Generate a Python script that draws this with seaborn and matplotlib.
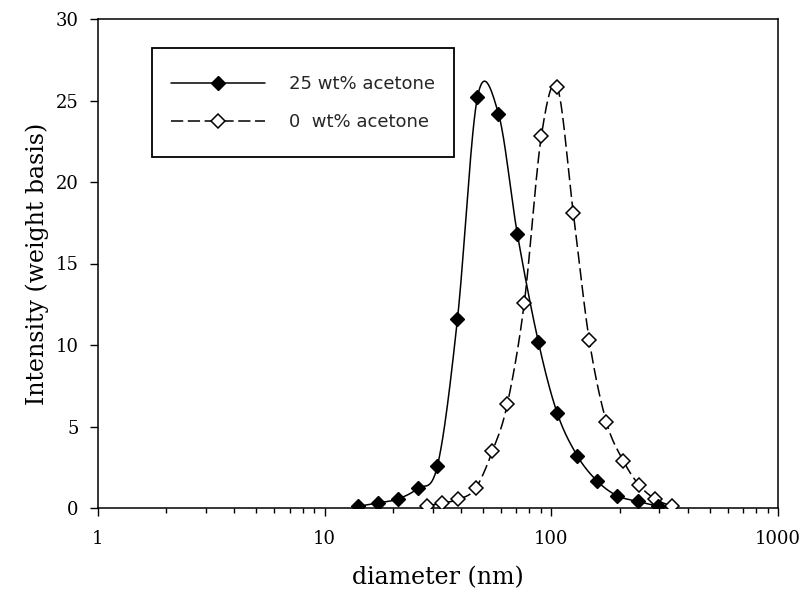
import numpy as np
import pandas as pd
import matplotlib
matplotlib.use("Agg")
import matplotlib.pyplot as plt
import seaborn as sns
from matplotlib.lines import Line2D
from matplotlib.patches import Rectangle
from matplotlib.ticker import FixedLocator, FixedFormatter, LogLocator, NullFormatter

# 25 wt% acetone (filled diamonds, solid line)
diam_25 = [13.98, 17.12, 20.97, 25.68, 31.46, 38.54, 47.21, 58.42,
           70.84, 87.63, 106.3, 130.2, 159.4, 195.3, 241.7, 296.0]
int_25 = [0.1, 0.3, 0.55, 1.2, 2.6, 11.6, 25.2, 24.2,
          16.8, 10.2, 5.8, 3.2, 1.65, 0.75, 0.4, 0.1]

# 0 wt% acetone (open diamonds, dashed line)
diam_0 = [28.14, 33.1, 38.9, 46.3, 55.0, 64.0, 76.0, 90.3,
          106.3, 125.0, 147.0, 174.7, 207.6, 244.2, 287.2, 341.3]
int_0 = [0.12, 0.3, 0.53, 1.2, 3.5, 6.4, 12.6, 22.8,
         25.8, 18.1, 10.3, 5.3, 2.9, 1.4, 0.55, 0.1]

labels = ["25 wt% acetone", "0  wt% acetone"]
x_ticks = [1, 10, 100, 1000]
y_ticks = [0, 5, 10, 15, 20, 25, 30]


def smooth(x, y, n=30):
    # Catmull-Rom through the points in log-x space (like a spreadsheet "smoothed line")
    lx = np.log10(np.asarray(x, float))
    yy = np.asarray(y, float)
    px = np.r_[lx[0], lx, lx[-1]]
    py = np.r_[yy[0], yy, yy[-1]]
    t = np.linspace(0, 1, n, endpoint=False)
    xs, ys = [], []
    for i in range(1, len(px) - 2):
        for p, out in ((px, xs), (py, ys)):
            p0, p1, p2, p3 = p[i - 1], p[i], p[i + 1], p[i + 2]
            out.append(0.5 * (2 * p1 + (-p0 + p2) * t
                              + (2 * p0 - 5 * p1 + 4 * p2 - p3) * t ** 2
                              + (-p0 + 3 * p1 - 3 * p2 + p3) * t ** 3))
    xs.append([lx[-1]])
    ys.append([yy[-1]])
    return pd.DataFrame({"d": 10 ** np.concatenate(xs), "i": np.concatenate(ys)})


sns.set_theme(style="ticks")
plt.rcParams["font.family"] = ["DejaVu Serif"]

fig = plt.figure(figsize=(8.01, 6.05), dpi=100)
ax = fig.add_axes([98 / 801, 1 - 508 / 605, 680 / 801, 489 / 605])

dash = (0, (8, 3))
c25 = smooth(diam_25, int_25)
c0 = smooth(diam_0, int_0)
sns.lineplot(data=c0, x="d", y="i", sort=False, estimator=None, color="black",
             lw=1.1, linestyle=dash, ax=ax)
sns.lineplot(data=c25, x="d", y="i", sort=False, estimator=None, color="black",
             lw=1.1, ax=ax)
ax.plot(diam_0, int_0, ls="none", marker="D", ms=7, mfc="white", mec="black",
        mew=1.1, zorder=4)
ax.plot(diam_25, int_25, ls="none", marker="D", ms=7, mfc="black", mec="black",
        zorder=5)

ax.set_xscale("log")
ax.set_xlim(1, 1000)
ax.set_ylim(0, 30)
ax.xaxis.set_major_locator(FixedLocator(x_ticks))
ax.xaxis.set_major_formatter(FixedFormatter([str(v) for v in x_ticks]))
ax.xaxis.set_minor_locator(LogLocator(base=10, subs=np.arange(2, 10)))
ax.xaxis.set_minor_formatter(NullFormatter())
ax.yaxis.set_major_locator(FixedLocator(y_ticks))

for s in ax.spines.values():
    s.set_visible(True)
    s.set_color("black")
    s.set_linewidth(1.1)
ax.tick_params(axis="both", which="major", direction="out", length=5.8, width=1.0,
               color="black", labelsize=13, labelcolor="black")
ax.tick_params(axis="x", which="major", pad=10)
ax.tick_params(axis="y", which="major", pad=8)
ax.tick_params(axis="x", which="minor", direction="out", length=3.6, width=1.0,
               color="black")
ax.tick_params(top=False, right=False, which="both")

ax.set_xlabel("diameter (nm)", fontsize=17, color="black", labelpad=13)
ax.set_ylabel("Intensity (weight basis)", fontsize=17, color="black", labelpad=5)
ax.grid(False)

# legend box
fig.add_artist(Rectangle((152 / 801, 1 - 157 / 605), 302 / 801, 109 / 605,
                         transform=fig.transFigure, fill=False, ec="black", lw=1.3,
                         zorder=6))
handles = [
    Line2D([], [], color="black", lw=1.1, marker="D", ms=7, mfc="black", mec="black"),
    Line2D([], [], color="black", lw=1.1, ls=dash, marker="D", ms=7, mfc="white",
           mec="black", mew=1.1),
]
fig.legend(handles, labels, loc="center", bbox_to_anchor=(303 / 801, 1 - 103 / 605),
           frameon=False, numpoints=1, borderpad=0, handlelength=5.26,
           handletextpad=1.33, labelspacing=1.1,
           prop={"family": "DejaVu Sans", "size": 13})

fig.savefig("out.png", dpi=100)
